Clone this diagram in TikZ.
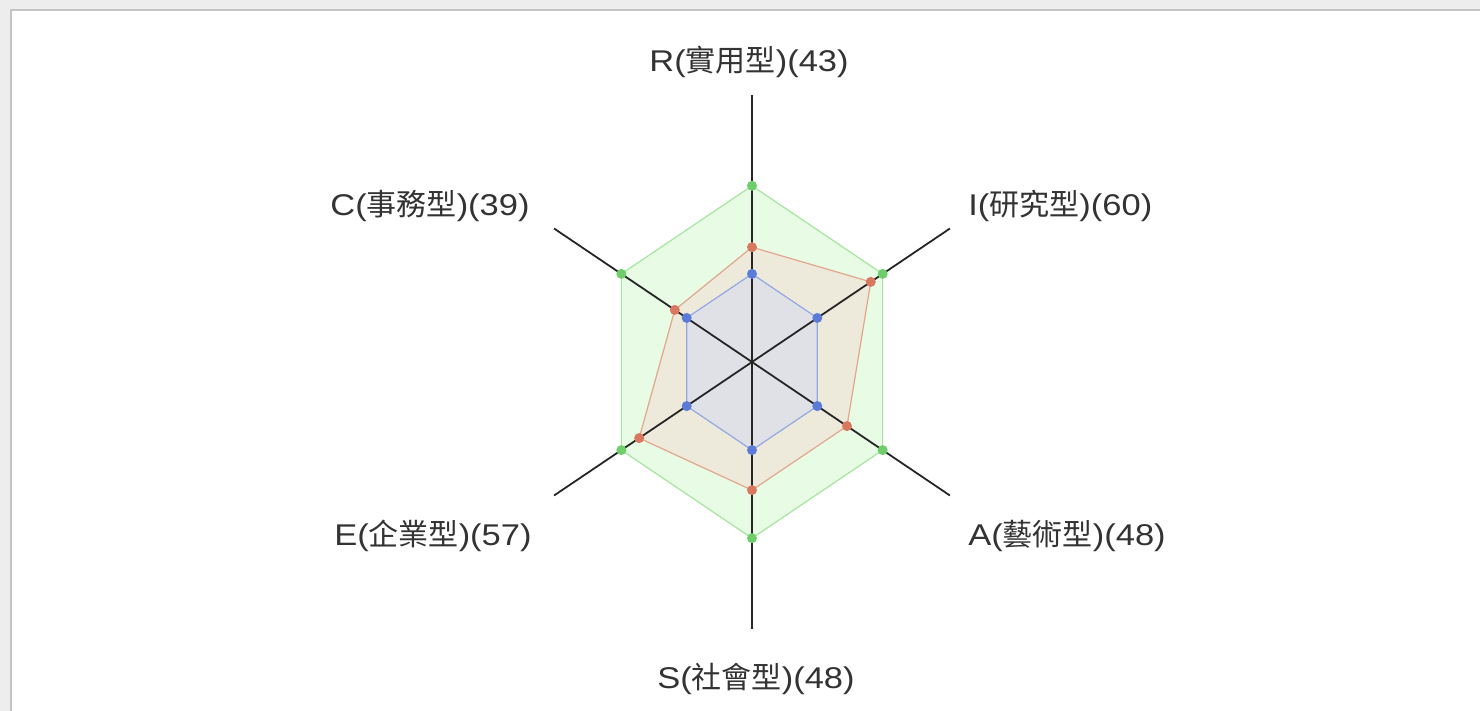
\documentclass[tikz,border=0pt]{standalone}
\usepackage{fontspec}
\setmainfont{Liberation Sans}[FakeStretch=1.15]
\newfontfamily\cjk{Noto Sans CJK TC}
\usetikzlibrary{positioning}

\definecolor{panelgray}{HTML}{EDEDED}
\definecolor{bordergray}{HTML}{C4C4C4}
\definecolor{textgray}{HTML}{333333}
\definecolor{greenfill}{HTML}{E7FBE5}
\definecolor{greenline}{HTML}{A6E69E}
\definecolor{greendot}{HTML}{6ECF6A}
\definecolor{redfill}{HTML}{EEEADB}
\definecolor{redline}{HTML}{E2A68C}
\definecolor{reddot}{HTML}{D8785E}
\definecolor{bluefill}{HTML}{DFE1E6}
\definecolor{blueline}{HTML}{93A8E2}
\definecolor{bluedot}{HTML}{5C7AD8}

\begin{document}
\begin{tikzpicture}[x=0.5pt,y=-0.5pt,
  axis/.style={draw=black!85,line width=0.9pt},
  ring/.style={line width=0.6pt},
  dot/.style={circle,inner sep=0pt,minimum size=5pt},
  lab/.style={text=textgray,inner sep=0pt,font=\fontsize{15}{18}\selectfont}]
\useasboundingbox (0,0) rectangle (1480,711);
\fill[panelgray] (0,0) rectangle (1480,711);
\draw[fill=white,draw=bordergray,line width=1pt] (11,10) rectangle (1490,720);

% radar chart, values 0..100 along each axis
\begin{scope}[shift={(752,362)},x={(1.1428pt,0)},y={(0,1.335pt)}]
  \coordinate (O) at (0,0);
  \foreach \n/\a/\v in {R/90/43,I/30/60,A/-30/48,S/-90/48,E/210/57,C/150/39}{
    \coordinate (end\n) at (\a:100);
    \coordinate (g\n) at (\a:66);
    \coordinate (r\n) at (\a:\v);
    \coordinate (b\n) at (\a:33);
  }
  \filldraw[ring,fill=greenfill,draw=greenline] (gR)--(gI)--(gA)--(gS)--(gE)--(gC)--cycle;
  \filldraw[ring,fill=redfill,draw=redline] (rR)--(rI)--(rA)--(rS)--(rE)--(rC)--cycle;
  \filldraw[ring,fill=bluefill,draw=blueline] (bR)--(bI)--(bA)--(bS)--(bE)--(bC)--cycle;
  \draw[axis] (O) -- (endR);
  \draw[axis] (O) -- (endI);
  \draw[axis] (O) -- (endA);
  \draw[axis] (O) -- (endS);
  \draw[axis] (O) -- (endE);
  \draw[axis] (O) -- (endC);
  \foreach \n in {R,I,A,S,E,C}{
    \node[dot,fill=greendot] (gdot\n) at (g\n) {};
    \node[dot,fill=reddot] (rdot\n) at (r\n) {};
    \node[dot,fill=bluedot] (bdot\n) at (b\n) {};
  }
\end{scope}

\node[lab] (labR) at (749,62) {R({\cjk 實用型})(43)};
\node[lab,anchor=west] (labI) at (968,206) {I({\cjk 研究型})(60)};
\node[lab,anchor=west] (labA) at (968,536) {A({\cjk 藝術型})(48)};
\node[lab] (labS) at (756,679) {S({\cjk 社會型})(48)};
\node[lab,anchor=east] (labE) at (532,536) {E({\cjk 企業型})(57)};
\node[lab,anchor=east] (labC) at (530,206) {C({\cjk 事務型})(39)};
\end{tikzpicture}
\end{document}
